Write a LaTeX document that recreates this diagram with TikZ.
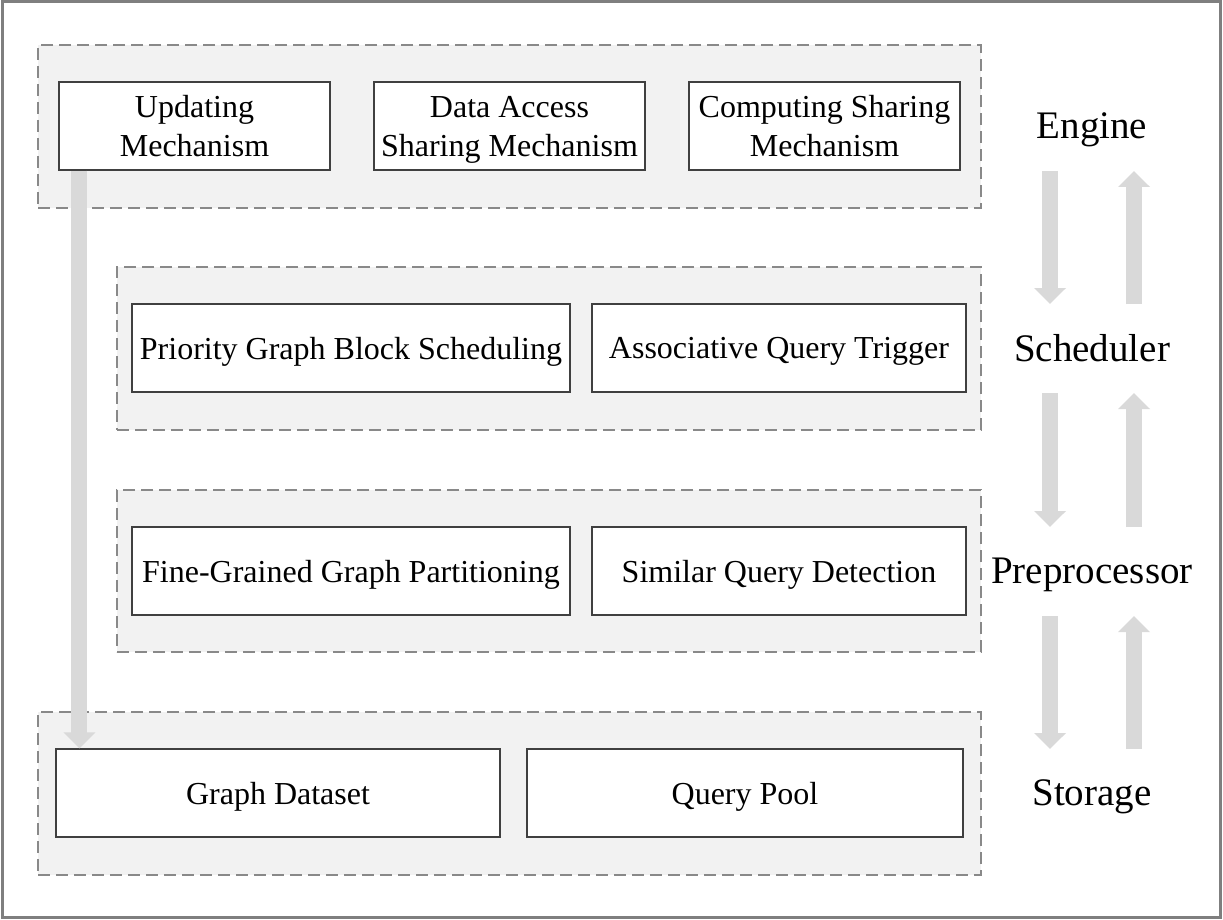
\documentclass[tikz,border=0pt]{standalone}
\usepackage{fontspec}
\setmainfont{Liberation Serif}
\usetikzlibrary{positioning, calc, arrows.meta}
\definecolor{panelgray}{HTML}{F2F2F2}
\definecolor{arrowgray}{HTML}{D9D9D9}
\definecolor{dashgray}{HTML}{898989}
\definecolor{framegray}{HTML}{7F7F7F}

\begin{document}
\begin{tikzpicture}[%
        x=1pt, y=-1pt,
        layer/.style={rectangle, draw=dashgray, fill=panelgray, line width=1.8pt, dash pattern=on 12pt off 6pt, inner sep=0pt, minimum height=163pt},
        module/.style={rectangle, draw=black!75, fill=white, line width=1.2pt, minimum height=88pt, inner sep=0pt, text depth=0pt, align=center, font=\fontsize{32}{39}\selectfont},
        tag/.style={inner sep=0pt, text depth=0pt, font=\fontsize{39}{47}\selectfont},
        flow/.style={-{Triangle[length=16pt, width=31pt]}, line width=16pt, draw=arrowgray}%
    ]
        \useasboundingbox (0,0) rectangle (1223,920);
        \draw[line width=3pt, framegray] (2,2) rectangle (1220,917);

        % layers
        \node[layer, minimum width=943pt] (engL) at (509.5, 126.5) {};
        \node[layer, minimum width=864pt] (schL) at (549, 348.5) {};
        \node[layer, minimum width=864pt, minimum height=162pt] (preL) at (549, 571) {};
        \node[layer, minimum width=943pt] (stoL) at (509.5, 793.5) {};

        % engine
        \node[module, minimum width=271pt] (upd) at (194.5, 126) {Updating\\Mechanism};
        \node[module, minimum width=271pt] (dac) at (509.5, 126) {Data Access\\Sharing Mechanism};
        \node[module, minimum width=271pt] (csm) at (824.5, 126) {Computing Sharing\\Mechanism};

        % scheduler
        \node[module, minimum width=438pt] (pgb) at (351, 348) {Priority Graph Block Scheduling};
        \node[module, minimum width=374pt] (aqt) at (779, 348) {Associative Query Trigger};

        % preprocessor
        \node[module, minimum width=438pt] (fgp) at (351, 571) {Fine-Grained Graph Partitioning};
        \node[module, minimum width=374pt] (sqd) at (779, 571) {Similar Query Detection};

        % storage
        \node[module, minimum width=444pt] (gds) at (278, 793) {Graph Dataset};
        \node[module, minimum width=436pt] (qpl) at (745, 793) {Query Pool};

        % layer names
        \node[tag] (engine) at (1092, 126) {Engine};
        \node[tag] (sched) at (1092, 348) {Scheduler};
        \node[tag] (prep) at (1092, 571) {Preprocessor};
        \node[tag] (stor) at (1092, 793) {Storage};

        \foreach \a/\b in {engine/sched, sched/prep, prep/stor} {
            \draw[flow] ($(\a.center)+(-42,45)$) -- ($(\b.center)+(-42,-44)$);
            \draw[flow] ($(\b.center)+(42,-44)$) -- ($(\a.center)+(42,45)$);
        }

        \coordinate (updfoot) at ($(upd.south west)+(21,0)$);
        \draw[flow] (updfoot) -- (updfoot |- gds.north);
    \end{tikzpicture}
\end{document}
